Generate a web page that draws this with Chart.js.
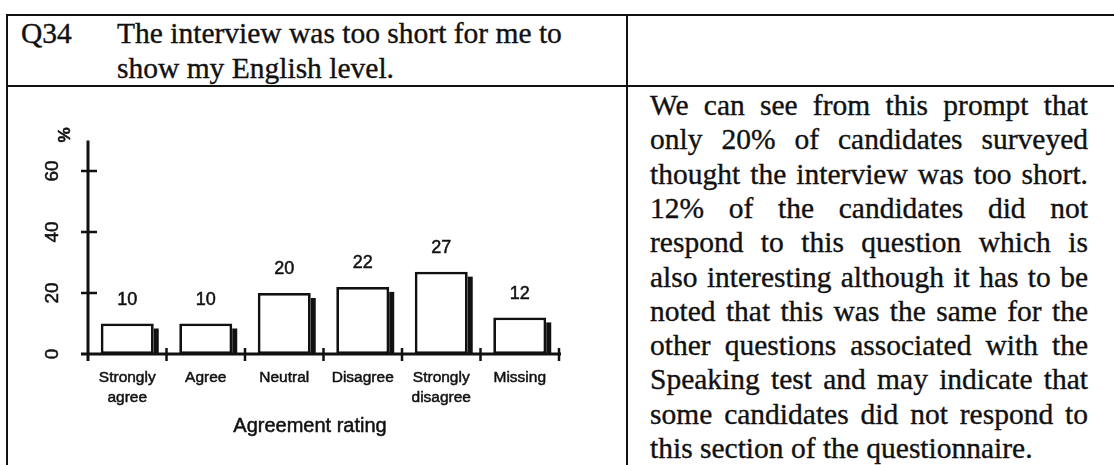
<!DOCTYPE html>
<html>
<head>
<meta charset="utf-8">
<script src="https://cdn.jsdelivr.net/npm/chart.js@4.4.1/dist/chart.umd.min.js"></script>
<style>
  html, body { margin:0; padding:0; background:#fff; }
  #page { position:relative; width:1114px; height:465px; overflow:hidden; background:#fff; }
  .hl { position:absolute; background:#111; height:2px; }
  .vl { position:absolute; background:#111; width:2px; }
  .serif { position:absolute; font-family:"Liberation Serif","Times New Roman",serif; font-size:29.5px; line-height:35px; color:#111; white-space:nowrap; -webkit-text-stroke:0.35px #111; }
  .jline { position:absolute; left:650px; width:438px; font-family:"Liberation Serif","Times New Roman",serif; font-size:29.5px; line-height:34.3px; color:#111; text-align:justify; text-align-last:justify; white-space:nowrap; -webkit-text-stroke:0.35px #111; }
  .jline.last { text-align:left; text-align-last:left; }
  #chart { position:absolute; left:0; top:0; }
</style>
</head>
<body>
<div id="page">
  <div class="hl" style="left:7px; top:14px; width:1107px;"></div>
  <div class="hl" style="left:7px; top:85px; width:1107px;"></div>
  <div class="vl" style="left:6px; top:14px; height:451px;"></div>
  <div class="vl" style="left:626px; top:14px; height:451px;"></div>

  <div class="serif" style="left:21px; top:16px;">Q34</div>
  <div class="serif" style="left:117px; top:16px;">The interview was too short for me to</div>
  <div class="serif" style="left:117px; top:51px;">show my English level.</div>

  <div id="textbox"></div>

  <canvas id="chart" width="1114" height="465"></canvas>
</div>
<script>
const categories = [["Strongly","agree"],["Agree"],["Neutral"],["Disagree"],["Strongly","disagree"],["Missing"]];
const percentages = [10, 10, 20, 22, 27, 12];
const yTickValues = [0, 20, 40, 60];
const yAxisMax = 70;
const xAxisTitle = "Agreement rating";
const yAxisUnit = "%";
const commentLines = [
  "We can see from this prompt that",
  "only 20% of candidates surveyed",
  "thought the interview was too short.",
  "12% of the candidates did not",
  "respond to this question which is",
  "also interesting although it has to be",
  "noted that this was the same for the",
  "other questions associated with the",
  "Speaking test and may indicate that",
  "some candidates did not respond to",
  "this section of the questionnaire."
];

const tb = document.getElementById('textbox');
commentLines.forEach((t, i) => {
  const d = document.createElement('div');
  d.className = 'jline' + (i === commentLines.length - 1 ? ' last' : '');
  d.style.top = (88 + i * 34.3) + 'px';
  d.textContent = t;
  tb.appendChild(d);
});

const INK = '#111';
const SANS = '"Liberation Sans", Arial, Helvetica, sans-serif';

function heavyText(ctx, t, x, y) {
  ctx.fillText(t, x, y);
  ctx.strokeText(t, x, y);
}

const drawPlugin = {
  id: 'scanStyle',
  afterDatasetsDraw(chart) {
    const ctx = chart.ctx;
    const xs = chart.scales.x, ys = chart.scales.y;
    const meta = chart.getDatasetMeta(0);
    const y0 = ys.getPixelForValue(0);
    const half = (xs.getPixelForValue(1) - xs.getPixelForValue(0)) / 2;
    ctx.save();
    ctx.fillStyle = INK;
    meta.data.forEach(bar => {
      const p = bar.getProps(['x','y','base','width'], true);
      const right = p.x + p.width / 2;
      ctx.fillRect(right, p.y + 5, 5, p.base - p.y - 5);
    });
    ctx.strokeStyle = INK;
    ctx.lineWidth = 3;
    ctx.beginPath();
    ctx.moveTo(xs.left, ys.top);
    ctx.lineTo(xs.left, y0 + 7);
    ctx.moveTo(xs.left - 7, y0);
    ctx.lineTo(xs.right + 2, y0);
    ctx.stroke();
    ctx.lineWidth = 2.5;
    ctx.beginPath();
    yTickValues.forEach(v => {
      if (v === 0) return;
      const y = ys.getPixelForValue(v);
      ctx.moveTo(xs.left - 7, y);
      ctx.lineTo(xs.left + 9, y);
    });
    for (let i = 0; i < categories.length; i++) {
      const bx = xs.getPixelForValue(i) + half;
      ctx.moveTo(bx, y0 - 6);
      ctx.lineTo(bx, y0 + 7);
    }
    ctx.stroke();

    ctx.fillStyle = INK;
    ctx.lineWidth = 0.5;
    ctx.textAlign = 'center';
    ctx.textBaseline = 'middle';
    ctx.font = '19px ' + SANS;
    yTickValues.forEach(v => {
      const y = ys.getPixelForValue(v);
      ctx.save();
      ctx.translate(53, y);
      ctx.rotate(-Math.PI / 2);
      heavyText(ctx, String(v), 0, 0);
      ctx.restore();
    });
    ctx.save();
    ctx.font = 'bold 17px ' + SANS;
    ctx.translate(65, 135);
    ctx.rotate(-Math.PI / 2);
    heavyText(ctx, yAxisUnit, 0, 0);
    ctx.restore();
    ctx.font = '18px ' + SANS;
    meta.data.forEach((bar, i) => {
      heavyText(ctx, String(percentages[i]), bar.x, bar.y - 23.5);
    });
    ctx.font = '15.5px ' + SANS;
    categories.forEach((lines, i) => {
      const x = xs.getPixelForValue(i);
      lines.forEach((t, j) => heavyText(ctx, t, x, 378 + j * 20));
    });
    ctx.font = '20px ' + SANS;
    heavyText(ctx, xAxisTitle, 310, 426);
    ctx.restore();
  }
};

new Chart(document.getElementById('chart'), {
  type: 'bar',
  data: {
    labels: categories.map(c => c.join(' ')),
    datasets: [{
      data: percentages,
      backgroundColor: '#ffffff',
      borderColor: INK,
      borderWidth: 2.8,
      borderSkipped: false,
      categoryPercentage: 1.0,
      barPercentage: 0.675
    }]
  },
  options: {
    responsive: false,
    animation: false,
    devicePixelRatio: 1,
    layout: { padding: { left: 88, right: 555, top: 140.5, bottom: 111 } },
    plugins: { legend: { display: false }, tooltip: { enabled: false } },
    scales: {
      x: { display: false, offset: true },
      y: { display: false, min: 0, max: yAxisMax }
    }
  },
  plugins: [drawPlugin]
});
</script>
</body>
</html>
